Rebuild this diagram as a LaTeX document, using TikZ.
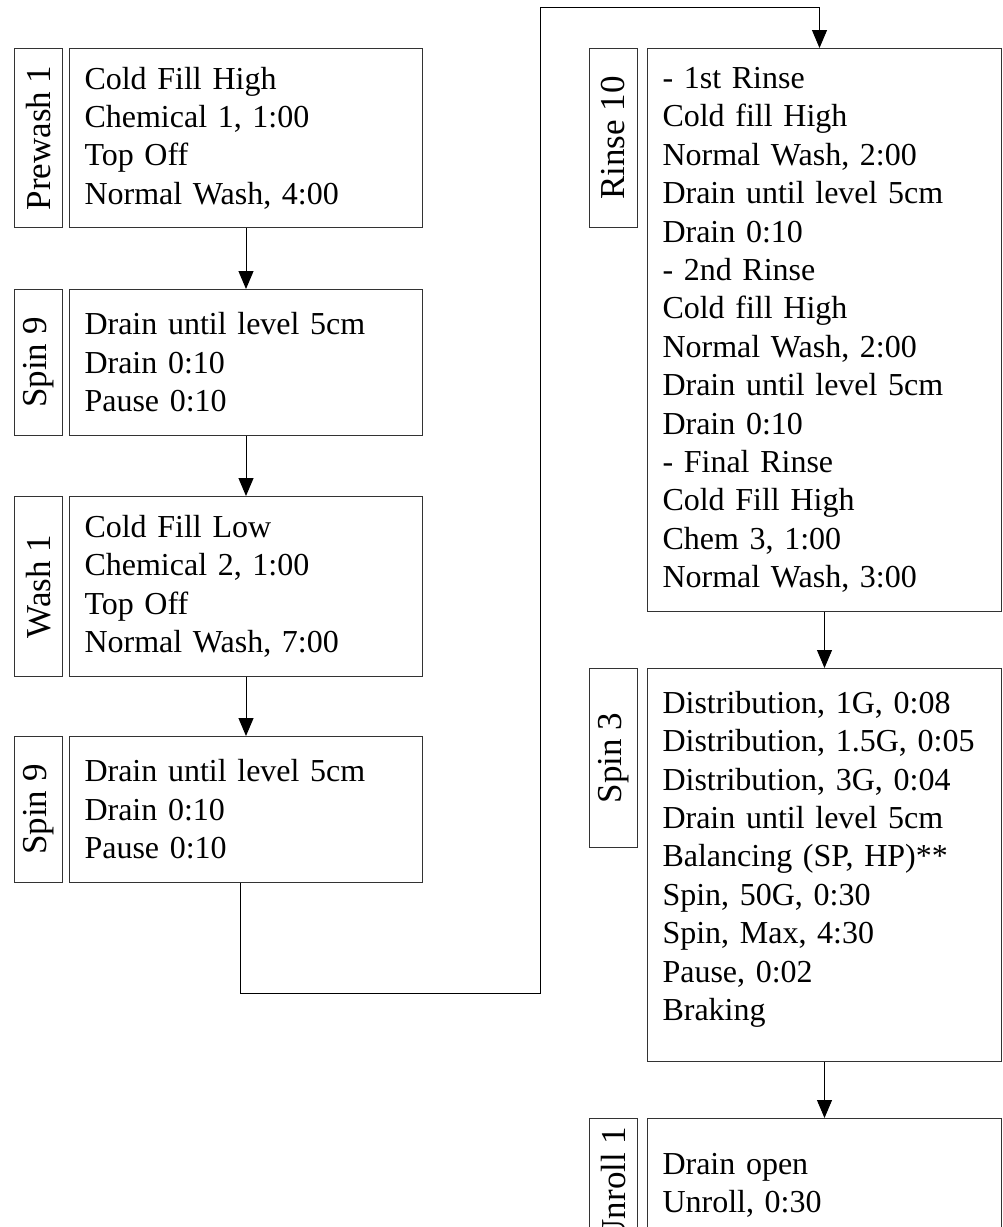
\documentclass[tikz,border=0pt]{standalone}
\usepackage{fontspec}
\setmainfont{Liberation Serif}
\usetikzlibrary{positioning,arrows.meta}

\begin{document}
\begin{tikzpicture}
    \tikzstyle{phase} = [rectangle, draw=black!80, line width=1pt, inner xsep=15pt,
        inner ysep=0pt, align=left, font=\fontsize{32}{38.4}\selectfont]
    \tikzstyle{tag} = [rectangle, draw=black!80, line width=1pt, rotate=90,
        minimum height=48pt, inner sep=0pt, font=\fontsize{35}{40}\selectfont]
    \tikzstyle{arrow} = [line width=1pt, -{Triangle[length=18pt,width=15pt]}]

    \useasboundingbox (0,0) rectangle (1002pt,-1227pt);

    % left column
    \node (pw) [phase, text width=323pt, minimum height=179pt, anchor=north west] at (69pt,-48pt)
        {Cold Fill High\\Chemical 1, 1:00\\Top Off\\Normal Wash, 4:00};
    \node (sp1) [phase, text width=323pt, minimum height=146pt, below=61pt of pw]
        {Drain until level 5cm\\Drain 0:10\\Pause 0:10};
    \node (wa) [phase, text width=323pt, minimum height=180pt, below=60pt of sp1]
        {Cold Fill Low\\Chemical 2, 1:00\\Top Off\\Normal Wash, 7:00};
    \node (sp2) [phase, text width=323pt, minimum height=146pt, below=59pt of wa]
        {Drain until level 5cm\\Drain 0:10\\Pause 0:10};

    \node (pwtag) [tag, minimum width=179pt, anchor=south east] at ([xshift=-6pt]pw.north west) {Prewash 1};
    \node (sp1tag) [tag, minimum width=146pt, anchor=south east] at ([xshift=-6pt]sp1.north west) {Spin 9};
    \node (watag) [tag, minimum width=180pt, anchor=south east] at ([xshift=-6pt]wa.north west) {Wash 1};
    \node (sp2tag) [tag, minimum width=146pt, anchor=south east] at ([xshift=-6pt]sp2.north west) {Spin 9};

    % right column
    \node (ri) [phase, text width=324pt, minimum height=563pt, anchor=north west] at (647pt,-48pt)
        {- 1st Rinse\\Cold fill High\\Normal Wash, 2:00\\Drain until level 5cm\\Drain 0:10\\
         - 2nd Rinse\\Cold fill High\\Normal Wash, 2:00\\Drain until level 5cm\\Drain 0:10\\
         - Final Rinse\\Cold Fill High\\Chem 3, 1:00\\Normal Wash, 3:00};
    \node (sp3) [phase, text width=324pt, minimum height=393pt, below=56pt of ri]
        {Distribution, 1G, 0:08\\Distribution, 1.5G, 0:05\\Distribution, 3G, 0:04\\
         Drain until level 5cm\\Balancing (SP, HP)**\\Spin, 50G, 0:30\\Spin, Max, 4:30\\
         Pause, 0:02\\Braking\\[-20pt]\mbox{}};
    \node (ur) [phase, text width=324pt, minimum height=134pt, below=56pt of sp3]
        {Drain open\\Unroll, 0:30};

    \node (ritag) [tag, minimum width=179pt, anchor=south east] at ([xshift=-9pt]ri.north west) {Rinse 10};
    \node (sp3tag) [tag, minimum width=179pt, anchor=south east] at ([xshift=-9pt]sp3.north west) {Spin 3};
    \node (urtag) [tag, minimum width=134pt, anchor=south east] at ([xshift=-9pt]ur.north west) {Unroll 1};

    \draw [arrow] (pw) -- (sp1);
    \draw [arrow] (sp1) -- (wa);
    \draw [arrow] (wa) -- (sp2);
    \draw [arrow] (ri) -- (sp3);
    \draw [arrow] (sp3) -- (ur);

    % jump to the second column
    \coordinate (low) at (540pt,-993pt);
    \coordinate (high) at (540pt,-7pt);
    \draw [arrow] ([xshift=-6pt]sp2.south) |- (low) -- (high) -| ([xshift=-5pt]ri.north);
\end{tikzpicture}
\end{document}
